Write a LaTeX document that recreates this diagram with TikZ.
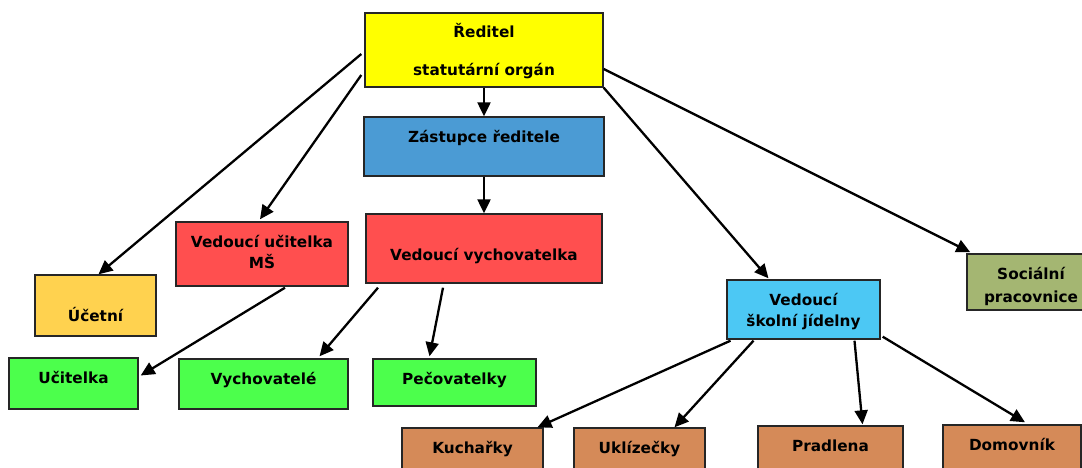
\documentclass[tikz,border=0pt]{standalone}
\usepackage{fontspec}
\setmainfont{DejaVu Sans}
\usetikzlibrary{arrows.meta}
\definecolor{cYellow}{HTML}{FFFF00}
\definecolor{cBlue}{HTML}{4B9BD4}
\definecolor{cRed}{HTML}{FF4F4F}
\definecolor{cGold}{HTML}{FFD24F}
\definecolor{cGreen}{HTML}{4CFF4C}
\definecolor{cSky}{HTML}{4CC8F4}
\definecolor{cOlive}{HTML}{A4B672}
\definecolor{cBrown}{HTML}{D58A58}
\tikzset{
  orgbox/.style={draw=black!85, line width=1.4pt, inner sep=0pt, align=center,
    font=\bfseries\fontsize{15.3}{21}\selectfont},
  link/.style={line width=2.3pt, -{Triangle[length=14pt,width=13pt]}}
}
\begin{document}
\begin{tikzpicture}[x=1pt,y=-1pt]
    \useasboundingbox (0,0) rectangle (1082,468);
    \clip (0,0) rectangle (1082,468);
    \node[orgbox, fill=cYellow, minimum width=238pt, text height=63pt, text depth=11pt] (dir) at (484,50) {Ředitel\\[17pt]statutární orgán};
    \node[orgbox, fill=cBlue, minimum width=240pt, text height=26pt, text depth=33pt] (zast) at (484,146.5) {Zástupce ředitele};
    \node[orgbox, fill=cRed, minimum width=236pt, text height=46pt, text depth=23pt] (vv) at (484,248.5) {Vedoucí vychovatelka};
    \node[orgbox, fill=cRed, minimum width=172pt, text height=46pt, text depth=18pt] (vu) at (262,254) {Vedoucí učitelka\\MŠ};
    \node[orgbox, fill=cGold, minimum width=121pt, text height=46pt, text depth=15pt] (ucetni) at (95.5,305.5) {Účetní};
    \node[orgbox, fill=cGreen, minimum width=129pt, text height=25pt, text depth=26pt] (ucit) at (73.5,383.5) {Učitelka};
    \node[orgbox, fill=cGreen, minimum width=169pt, text height=25pt, text depth=25pt] (vych) at (263.5,384) {Vychovatelé};
    \node[orgbox, fill=cGreen, minimum width=163pt, text height=25pt, text depth=22pt] (pec) at (454.5,382.5) {Pečovatelky};
    \node[orgbox, fill=cSky, minimum width=153pt, text height=46pt, text depth=13pt] (jid) at (803.5,309.5) {Vedoucí\\školní jídelny};
    \node[orgbox, fill=cOlive, minimum width=128pt, text height=48pt, text depth=8pt] (soc) at (1031,282) {Sociální\\[2pt]pracovnice};
    \node[orgbox, fill=cBrown, minimum width=141pt, text height=25pt, text depth=35pt] (kuch) at (472.5,458) {Kuchařky};
    \node[orgbox, fill=cBrown, minimum width=131pt, text height=25pt, text depth=35pt] (ukl) at (639.5,458) {Uklízečky};
    \node[orgbox, fill=cBrown, minimum width=145pt, text height=25pt, text depth=35pt] (pra) at (830.5,456) {Pradlena};
    \node[orgbox, fill=cBrown, minimum width=138pt, text height=25pt, text depth=35pt] (dom) at (1012,455) {Domovník};
    \path[link] ([xshift=-3pt,yshift=-4pt]dir.west) edge ([xshift=3pt]ucetni.north);
    \path[link] ([xshift=-3pt,yshift=-25pt]dir.west) edge ([xshift=-2pt,yshift=2pt]vu.north);
    \path[link] (dir.south) edge (zast.north);
    \path[link] (zast.south) edge (vv.north);
    \path[link] ([yshift=-19pt]dir.east) edge ([xshift=4pt,yshift=1pt]soc.north west);
    \path[link] (dir.south east) edge ([xshift=-35pt,yshift=1pt]jid.north);
    \path[link] ([xshift=23pt,yshift=-1pt]vu.south) edge ([xshift=2pt,yshift=8pt]ucit.east);
    \path[link] ([xshift=-106pt,yshift=-4pt]vv.south) edge ([xshift=56pt,yshift=2pt]vych.north);
    \path[link] ([xshift=-41pt,yshift=-4pt]vv.south) edge ([xshift=-25pt,yshift=2pt]pec.north);
    \path[link] ([xshift=-73pt,yshift=-1pt]jid.south) edge ([xshift=65pt]kuch.north);
    \path[link] ([xshift=-50pt,yshift=-1pt]jid.south) edge ([xshift=35pt]ukl.north);
    \path[link] ([xshift=51pt,yshift=-1pt]jid.south) edge ([xshift=32pt,yshift=1pt]pra.north);
    \path[link] ([xshift=2pt,yshift=3pt]jid.south east) edge ([xshift=13pt,yshift=2pt]dom.north);
\end{tikzpicture}
\end{document}
